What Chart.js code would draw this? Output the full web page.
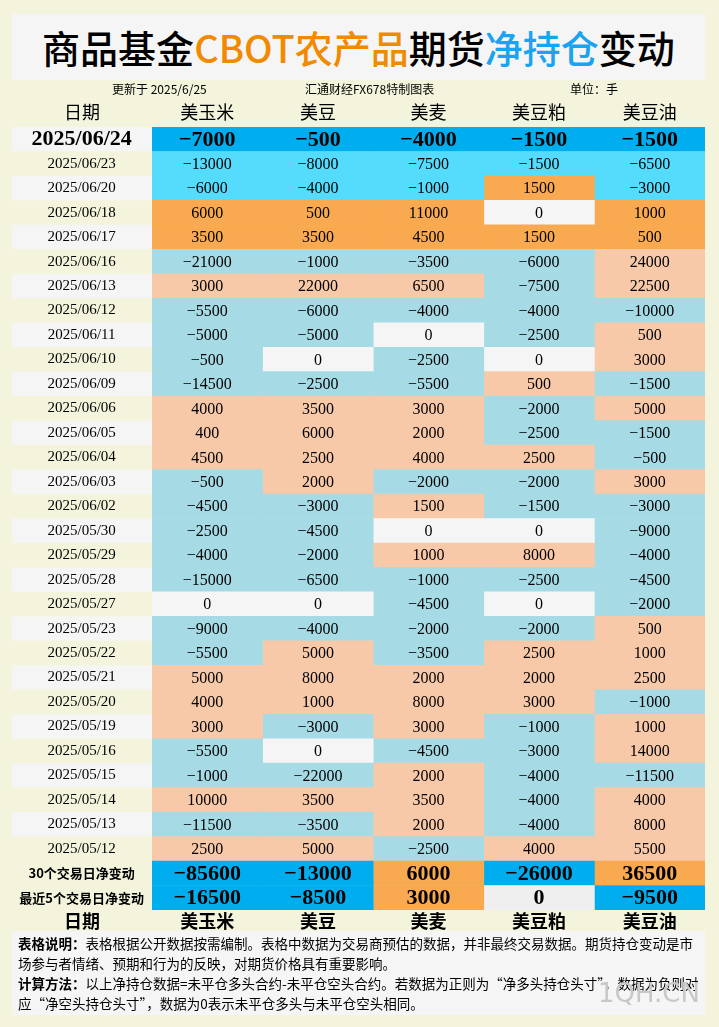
<!DOCTYPE html>
<html><head><meta charset="utf-8">
<script src="https://cdn.jsdelivr.net/npm/chart.js@4/dist/chart.umd.min.js"></script>
<style>
body{margin:0;background:#f4f4dc;font-family:"Liberation Serif","Noto Sans CJK SC",serif;}
#wrap{position:relative;width:719px;height:1027px;overflow:hidden;}
canvas{position:absolute;left:0;top:0;}
.t{position:absolute;white-space:nowrap;color:#000;}
#title{left:12px;top:14px;width:693px;height:66px;background:#f5f5f5;text-align:center;font-size:38px;line-height:66px;font-family:"Noto Sans CJK SC";font-weight:500;}
.hd{font-size:18px;font-family:"Noto Sans CJK SC";width:113px;text-align:center;}
#notes{left:12px;top:931px;width:681px;height:80px;background:#f5f5f5;font-size:13.5px;line-height:20px;padding:2px 6px;white-space:normal;font-family:"Noto Sans CJK SC";}
</style></head><body>
<div id="wrap">
<canvas id="c" width="719" height="1027"></canvas>
<div class="t" id="title">商品基金<span style="color:#f28a00">CBOT农产品</span>期货<span style="color:#1aa3f0">净持仓</span>变动</div>
<div class="t" style="left:112px;top:80px;font-size:12px;font-family:'Noto Sans CJK SC'">更新于 2025/6/25</div>
<div class="t" style="left:305px;top:80px;font-size:12px;font-family:'Noto Sans CJK SC'">汇通财经FX678特制图表</div>
<div class="t" style="left:570px;top:80px;font-size:12px;font-family:'Noto Sans CJK SC'">单位：手</div>
<div id="hdr1"></div><div id="hdr2"></div>
<div class="t" id="notes"><b>表格说明：</b>表格根据公开数据按需编制。表格中数据为交易商预估的数据，并非最终交易数据。期货持仓变动是市场参与者情绪、预期和行为的反映，对期货价格具有重要影响。<br><b>计算方法：</b>以上净持仓数据=未平仓多头合约-未平仓空头合约。若数据为正则为“净多头持仓头寸”，数据为负则对应“净空头持仓头寸”，数据为0表示未平仓多头与未平仓空头相同。</div>
<div class="t" style="left:598px;top:978px;font-size:26px;color:#c8c8c8;font-family:'DejaVu Sans'">1QH.CN</div>
</div>
<script>
const products=["美玉米","美豆","美麦","美豆粕","美豆油"];
const dates=["2025/06/24","2025/06/23","2025/06/20","2025/06/18","2025/06/17","2025/06/16","2025/06/13","2025/06/12","2025/06/11","2025/06/10","2025/06/09","2025/06/06","2025/06/05","2025/06/04","2025/06/03","2025/06/02","2025/05/30","2025/05/29","2025/05/28","2025/05/27","2025/05/23","2025/05/22","2025/05/21","2025/05/20","2025/05/19","2025/05/16","2025/05/15","2025/05/14","2025/05/13","2025/05/12"];
const summaryLabels=["30个交易日净变动","最近5个交易日净变动"];
const corn=[-7000,-13000,-6000,6000,3500,-21000,3000,-5500,-5000,-500,-14500,4000,400,4500,-500,-4500,-2500,-4000,-15000,0,-9000,-5500,5000,4000,3000,-5500,-1000,10000,-11500,2500,-85600,-16500];
const soy=[-500,-8000,-4000,500,3500,-1000,22000,-6000,-5000,0,-2500,3500,6000,2500,2000,-3000,-4500,-2000,-6500,0,-4000,5000,8000,1000,-3000,0,-22000,3500,-3500,5000,-13000,-8500];
const wheat=[-4000,-7500,-1000,11000,4500,-3500,6500,-4000,0,-2500,-5500,3000,2000,4000,-2000,1500,0,1000,-1000,-4500,-2000,-3500,2000,8000,3000,-4500,2000,3500,2000,-2500,6000,3000];
const meal=[-1500,-1500,1500,0,1500,-6000,-7500,-4000,-2500,0,500,-2000,-2500,2500,-2000,-1500,0,8000,-2500,0,-2000,2500,2000,3000,-1000,-3000,-4000,-4000,-4000,4000,-26000,0];
const oil=[-1500,-6500,-3000,1000,500,24000,22500,-10000,500,3000,-1500,5000,-1500,-500,3000,-3000,-9000,-4000,-4500,-2000,500,1000,2500,-1000,1000,14000,-11500,4000,8000,5500,36500,-9500];
const cols=[corn,soy,wheat,meal,oil];
const labels=dates.concat(summaryLabels);
const N=labels.length;
function tier(i){if(i===0||i>=30)return 0;if(i<=2)return 1;if(i<=4)return 2;return 3;}
function color(v,i){const t=tier(i);
 if(v===0)return t===0?"#efefef":"#f5f5f5";
 if(t===0)return v<0?"#00aeef":"#f9a94f";
 if(t===1)return v<0?"#55dcfc":"#f9a94f";
 if(t===2)return v<0?"#a6dbe6":"#f9a94f";
 return v<0?"#a6dbe6":"#f7c9a8";}
const big=i=>i===0||i>=30;
const L=152,W=(705-152)/5;
for(const [id,top,bold] of [["hdr1",98,false],["hdr2",907,true]]){
 let h=`<div class="t hd" style="left:12px;width:140px;top:${top}px;${bold?'font-weight:bold':''}">日期</div>`;
 products.forEach((p,k)=>h+=`<div class="t hd" style="left:${L+k*W}px;width:${W}px;top:${top}px;${bold?'font-weight:bold':''}">${p}</div>`);
 document.getElementById(id).innerHTML=h;}
const bgPlugin={id:'bg',beforeDraw(ch){const y=ch.scales.y,ctx=ch.ctx;
 for(let i=0;i<30;i++){const a=y.getPixelForValue(i)-y.height/N/2;ctx.fillStyle=(i%2===0)?"#f5f5f5":"#f4f4dc";ctx.fillRect(12,a,140,y.height/N);}}};
const txtPlugin={id:'txt',afterDatasetsDraw(ch){const ctx=ch.ctx;ctx.textAlign='center';ctx.textBaseline='middle';ctx.fillStyle='#000';
 ch.data.datasets.forEach((ds,di)=>{ch.getDatasetMeta(di).data.forEach((el,i)=>{
  ctx.font=big(i)?'bold 22px "Liberation Serif"':'16px "Liberation Serif"';
  const v=cols[di][i];ctx.fillText(String(v).replace('-','−'),(el.x+el.base)/2,el.y+1);});});}};
new Chart(document.getElementById('c'),{type:'bar',
 data:{labels,datasets:cols.map((arr,k)=>({label:products[k],data:arr.map(()=>[k,k+1]),backgroundColor:arr.map((v,i)=>color(v,i)),borderWidth:0,barPercentage:1,categoryPercentage:1,grouped:false}))},
 options:{indexAxis:'y',responsive:false,animation:false,events:[],
  layout:{padding:{left:0,right:14,top:127,bottom:117}},
  plugins:{legend:{display:false},tooltip:{enabled:false}},
  scales:{x:{type:'linear',min:0,max:5,display:false},
   y:{grid:{display:false},border:{display:false},afterFit(s){s.width=152;},
    ticks:{autoSkip:false,crossAlign:'center',padding:0,color:'#000',
     font:c=>c.index===0?{family:'Liberation Serif',size:22,weight:'bold'}:c.index>=30?{family:'Noto Sans CJK SC',size:13,weight:'bold'}:{family:'Liberation Serif',size:15}}}}},
 plugins:[bgPlugin,txtPlugin]});
</script></body></html>
